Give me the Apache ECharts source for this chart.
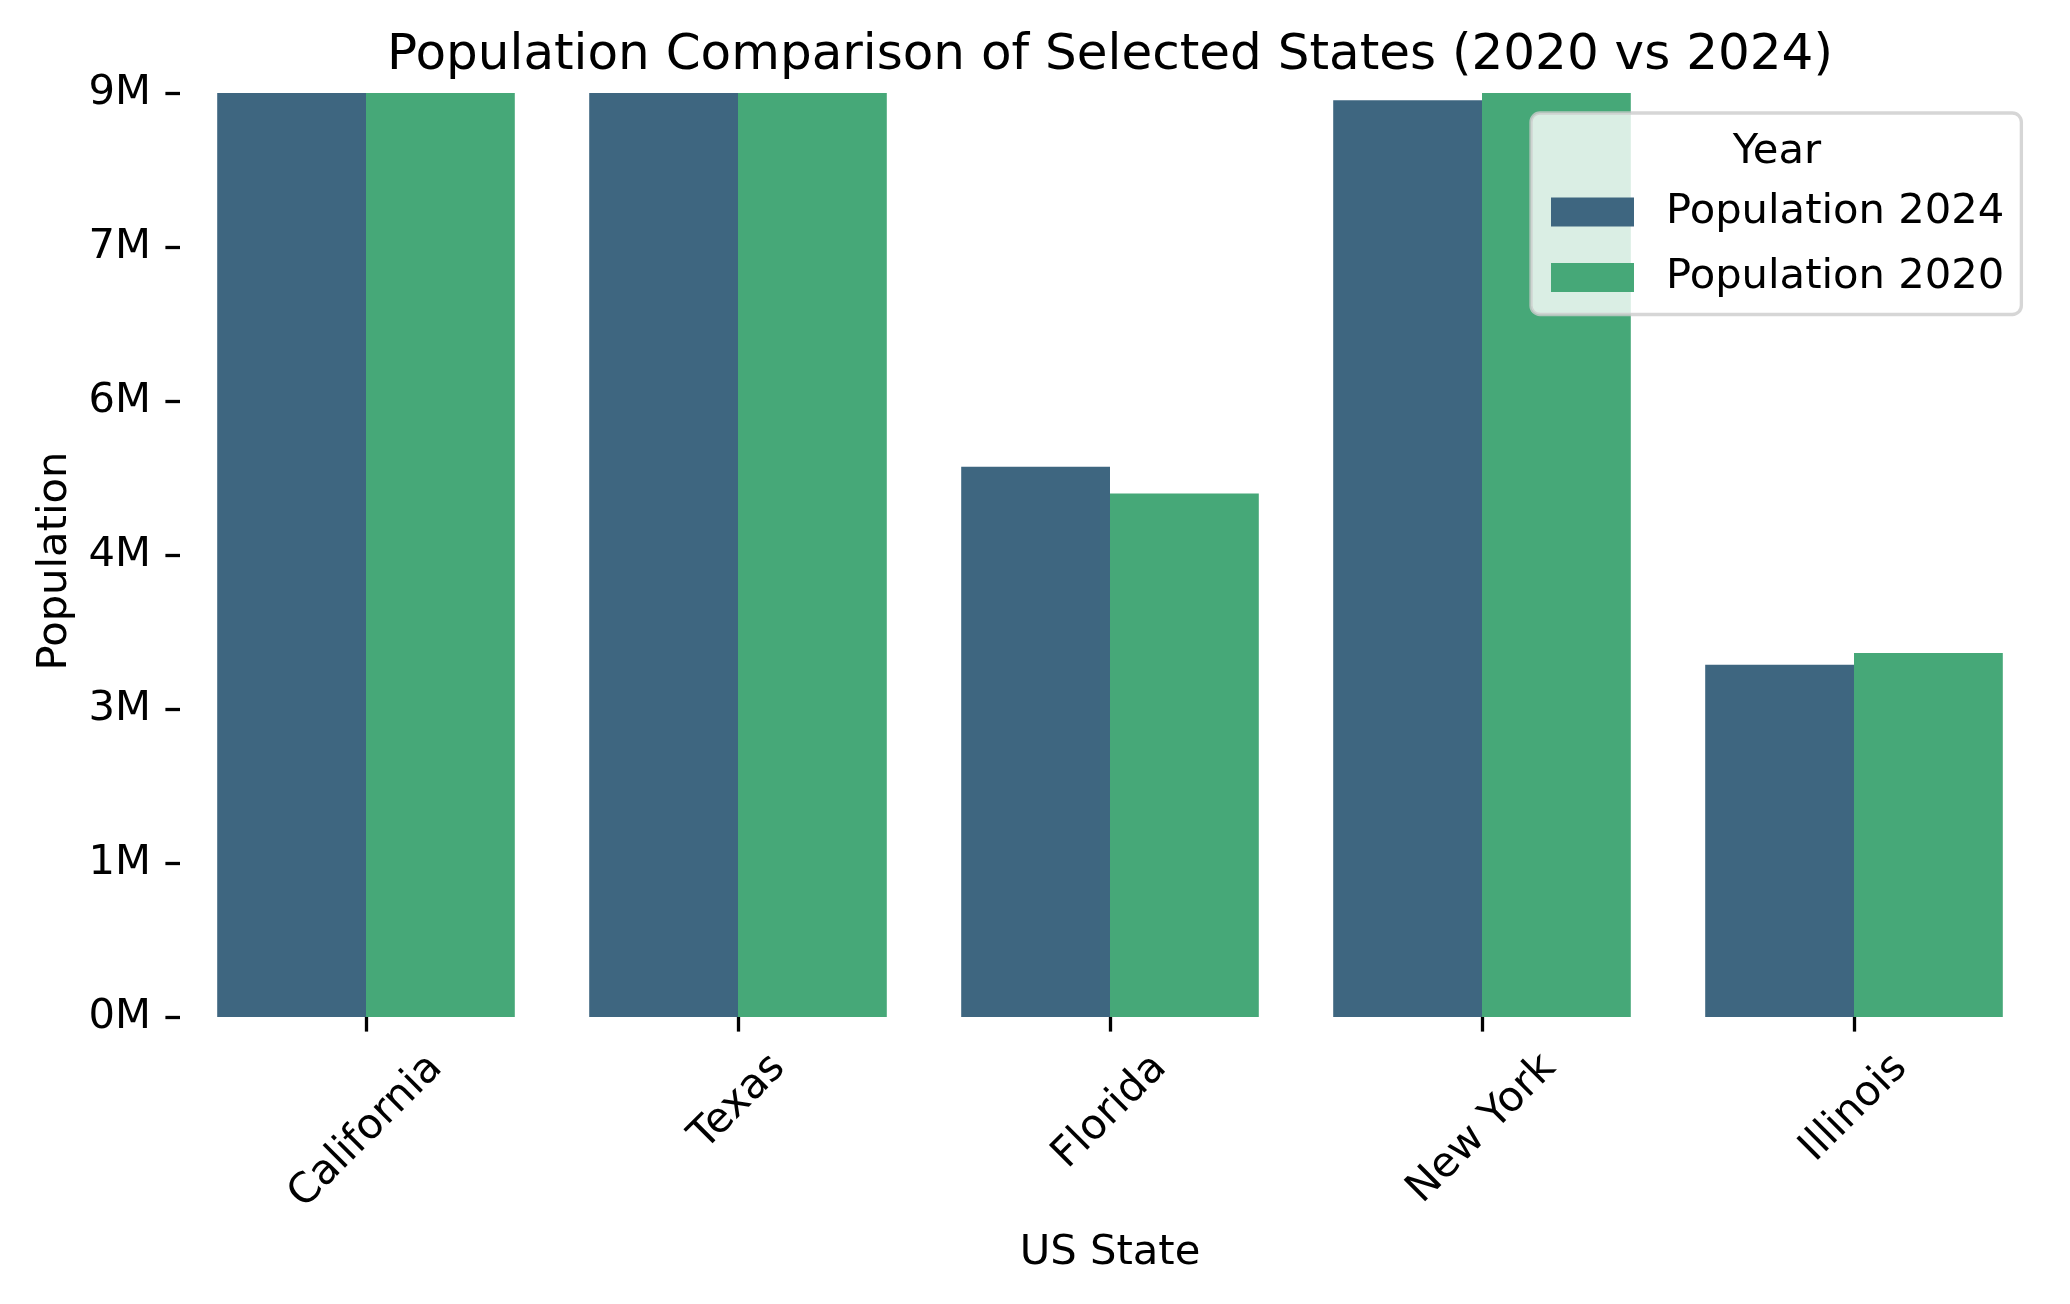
<!DOCTYPE html>
<html>
<head>
    <meta charset="utf-8">
    <title>Population Comparison</title>
    <script src="https://cdn.jsdelivr.net/npm/echarts@6/dist/echarts.min.js"></script>
    <style>
        html, body { margin: 0; padding: 0; background: #fff; }
        #main { width: 2070px; height: 1304px; }
    </style>
</head>
<body>
<div id="main"></div>
<script type="text/javascript">
    // data (bars above 9M are cut by the axis)
    var states = ['California', 'Texas', 'Florida', 'New York', 'Illinois'];
    var pop2024 = [39430000, 30500000, 5360000, 8930000, 3430000];
    var pop2020 = [39540000, 29150000, 5100000, 20200000, 3545000];
    var yTicks = [0, 1500000, 3000000, 4500000, 6000000, 7500000, 9000000];

    var FONT = 'DejaVu Sans';
    var fs = 41.7;

    // matplotlib centres the rotated label under the tick, so push each one down
    var cv = document.createElement('canvas').getContext('2d');
    cv.font = fs + 'px "' + FONT + '"';
    var xData = states.map(function (s) {
        var w = cv.measureText(s).width;
        var d = (w + 44) * 0.3536;
        return {
            value: s,
            textStyle: {
                align: 'center', verticalAlign: 'top', lineHeight: 44,
                padding: [0.707 * d - 22, 1.414 * d, 0, 0]
            }
        };
    });

    var myChart = echarts.init(document.getElementById('main'));
    var option = {
        backgroundColor: '#fff',
        animation: false,
        textStyle: { fontFamily: FONT },
        title: [{
            text: 'Population Comparison of Selected States (2020 vs 2024)',
            left: 1110, top: 31, textAlign: 'center', padding: 0,
            textStyle: { fontSize: 50, fontWeight: 'normal', color: '#000', fontFamily: FONT }
        }, {
            text: 'Year',
            left: 1777, top: 131, textAlign: 'center', padding: 0, z: 10,
            textStyle: { fontSize: fs, fontWeight: 'normal', color: '#000', fontFamily: FONT }
        }],
        legend: {
            orient: 'vertical',
            left: 1531, top: 113,
            padding: [78, 17, 16, 20],
            itemWidth: 83, itemHeight: 29, itemGap: 23.5,
            icon: 'rect',
            backgroundColor: 'rgba(255,255,255,0.8)',
            borderColor: 'rgba(204,204,204,0.8)',
            borderWidth: 3.3,
            borderRadius: 9,
            textStyle: { fontSize: fs, color: '#000', fontFamily: FONT, padding: [0, 0, 0, 27] },
            data: ['Population 2024', 'Population 2020']
        },
        grid: { left: 180, right: 30, top: 93, bottom: 287, containLabel: false, outerBoundsMode: 'none' },
        xAxis: {
            type: 'category',
            data: xData,
            name: 'US State',
            nameLocation: 'middle',
            nameGap: 215,
            nameMoveOverlap: false,
            nameTextStyle: { fontSize: fs, color: '#000', fontFamily: FONT },
            axisLine: { show: false },
            axisTick: { show: true, alignWithLabel: true, length: 14.6, lineStyle: { color: '#000', width: 3.3 } },
            axisLabel: {
                rotate: 45, interval: 0, margin: 29, hideOverlap: false,
                fontSize: fs, color: '#000', fontFamily: FONT
            },
            splitLine: { show: false }
        },
        yAxis: {
            type: 'value',
            min: 0, max: 9000000, interval: 1500000,
            name: 'Population',
            nameLocation: 'middle',
            nameGap: 104,
            nameMoveOverlap: false,
            nameTextStyle: { fontSize: fs, color: '#000', fontFamily: FONT, padding: [0, 12, 0, 0] },
            axisLine: { show: false },
            axisTick: { show: true, length: 14.6, lineStyle: { color: '#000', width: 3.3 } },
            axisLabel: {
                margin: 29, fontSize: fs, color: '#000', fontFamily: FONT,
                formatter: function (v) { return Math.trunc(v / 1e6) + 'M'; }
            },
            splitLine: { show: false }
        },
        series: [{
            name: 'Population 2024',
            type: 'bar',
            data: pop2024,
            clip: true,
            barGap: '0%',
            barCategoryGap: '20%',
            itemStyle: { color: '#3e6680' }
        }, {
            name: 'Population 2020',
            type: 'bar',
            data: pop2020,
            clip: true,
            barGap: '0%',
            barCategoryGap: '20%',
            itemStyle: { color: '#46a878' }
        }]
    };
    myChart.setOption(option);
</script>
</body>
</html>
